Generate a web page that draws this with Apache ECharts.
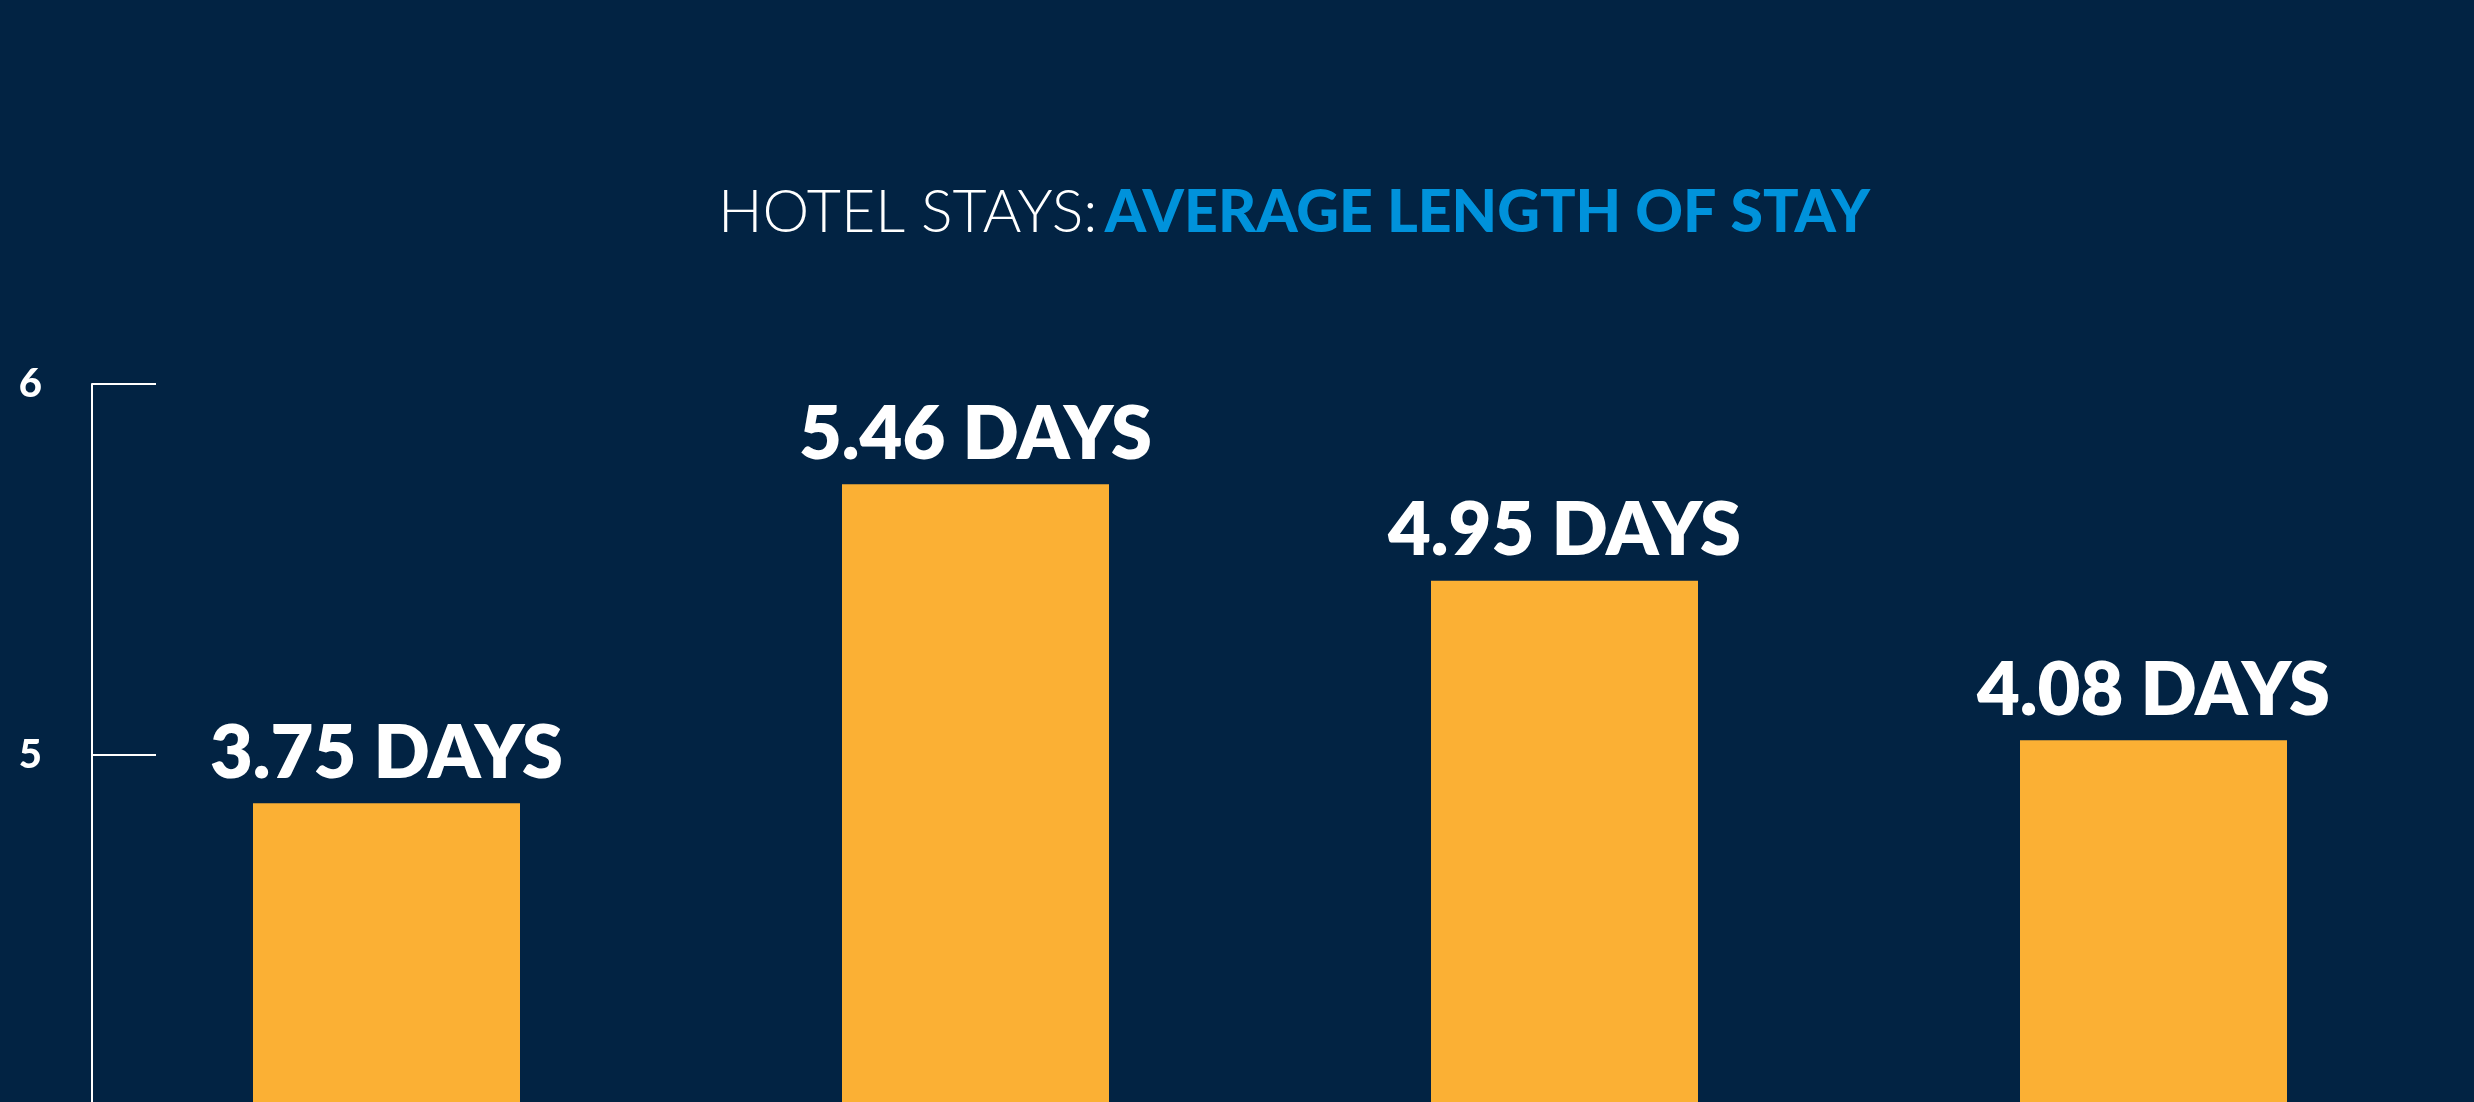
<!DOCTYPE html>
<html>
<head>
<meta charset="utf-8">
<style>
  html, body { margin: 0; padding: 0; background: #022343; }
  #chart { width: 2474px; height: 1102px; }
</style>
<script src="https://cdn.jsdelivr.net/npm/echarts@6/dist/echarts.min.js"></script>
</head>
<body>
<div id="chart"></div>
<script>
// categories are not printed in the picture, bars only
var categories = ['Stay 1', 'Stay 2', 'Stay 3', 'Stay 4']
// bar heights as read against the 5 / 6 axis
var barValues = [4.87, 5.73, 5.47, 5.04]
// text printed above each bar
var dayLabels = ['3.75 DAYS', '5.46 DAYS', '4.95 DAYS', '4.08 DAYS']

var chart = echarts.init(document.getElementById('chart'))

chart.setOption({
  backgroundColor: '#022343',
  animation: false,
  title: {
    text: '{thin|HOTEL STAYS:}{sp| }{bold|AVERAGE LENGTH OF STAY}',
    left: 713,
    top: 178,
    textStyle: {
      rich: {
        thin: {
          fontFamily: 'Lato',
          fontWeight: 300,
          fontSize: 59,
          color: '#ffffff'
        },
        sp: {
          fontFamily: 'Lato',
          fontSize: 30
        },
        bold: {
          fontFamily: 'Lato',
          fontWeight: 900,
          fontSize: 59,
          color: '#0092DB'
        }
      }
    }
  },
  grid: {
    left: 92,
    right: 26,
    top: 384,
    height: 742,
    outerBoundsMode: 'none'
  },
  xAxis: {
    type: 'category',
    data: categories,
    axisLine: { show: false },
    axisTick: { show: false },
    axisLabel: { show: false },
    splitLine: { show: false }
  },
  yAxis: {
    type: 'value',
    min: 4,
    max: 6,
    interval: 1,
    axisLine: {
      show: true,
      lineStyle: { color: '#ffffff', width: 2 }
    },
    axisTick: {
      show: true,
      inside: true,
      length: 64,
      lineStyle: { color: '#ffffff', width: 2 }
    },
    axisLabel: {
      margin: 50,
      color: '#ffffff',
      fontFamily: 'Lato',
      fontWeight: 900,
      fontSize: 40
    },
    splitLine: { show: false }
  },
  series: [
    {
      type: 'bar',
      data: barValues,
      barWidth: 267,
      itemStyle: { color: '#FBB034' },
      label: {
        show: true,
        position: 'top',
        distance: 12,
        color: '#ffffff',
        fontFamily: 'Lato',
        fontWeight: 800,
        fontSize: 74,
        formatter: function (p) {
          return dayLabels[p.dataIndex]
        }
      }
    }
  ]
})
</script>
</body>
</html>
